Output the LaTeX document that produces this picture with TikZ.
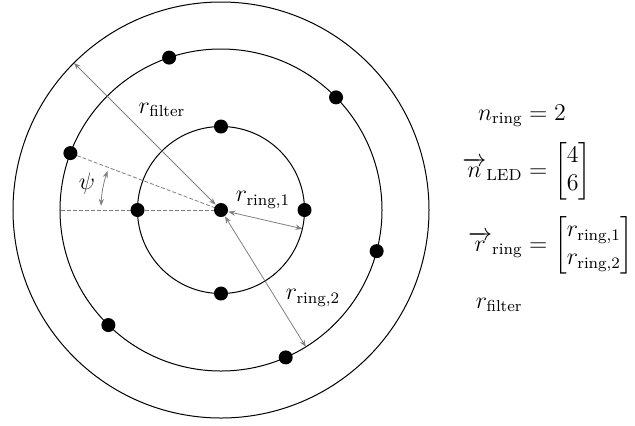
\documentclass[tikz,border=0pt]{standalone}
\usepackage{amsmath,amssymb}
\usepackage{tikz}
\usetikzlibrary{arrows.meta}
\newcommand{\lhsbox}[1]{\makebox[30.5pt][r]{$#1$}}
\tikzset{
  led/.style={circle, fill=black, inner sep=0pt, minimum size=7pt},
  dim/.style={gray, line width=0.4pt, {Stealth[length=3.5pt]}-{Stealth[length=3.5pt]}},
  aux/.style={gray, line width=0.4pt, dash pattern=on 2pt off 1pt},
  eqn/.style={inner sep=0pt, font=\large},
  par/.style={eqn, anchor=base west},
  >=Stealth
}
\begin{document}
\begin{tikzpicture}[x=0.5pt, y=0.5pt, line width=0.5pt]
  \useasboundingbox (-221,-215) rectangle (414,210);
  % filter and rings
  \draw (0,0) circle[radius=208];
  \draw (0,0) circle[radius=161];
  \draw (0,0) circle[radius=83.5];
  % guide lines for psi
  \coordinate (o) at (0,0);
  \coordinate (hz) at (180:161);
  \coordinate (gd) at (159.3:161);
  \draw[aux] (o) -- (gd);
  \draw[aux] (o) -- (hz);
  \node[led] (c) at (o) {};
  \foreach \a/\n in {0/1, 90/2, 180/3, 270/4}
    \node[led] (ra\n) at (\a:83.5) {};
  \foreach \a/\n in {159.3/1, 108.8/2, 44.4/3, -14.8/4, -66.3/5, -134.4/6}
    \node[led] (rb\n) at (\a:161) {};
  \draw[dim] (178:120) arc[start angle=178, end angle=161, radius=120];
  \node[eqn] (psi) at (-134,27) {$\psi$};
  % radii
  \coordinate (rf) at (135:208);
  \coordinate (r1) at (-13:83.5);
  \coordinate (r2) at (-58.2:161);
  \draw[dim] (c) -- (rf);
  \draw[dim] (c) -- (r1);
  \draw[dim] (c) -- (r2);
  \node[eqn] (lf) at (-59,100) {$r_{\text{filter}}$};
  \node[eqn] (l1) at (42,10) {$r_{\text{ring},1}$};
  \node[eqn] (l2) at (92,-88) {$r_{\text{ring},2}$};
  % parameters
  \node[par] (nr) at (240,90) {\lhsbox{n_{\text{ring}}}${}=2$};
  \node[par] (nl) at (240,33) {\lhsbox{\overrightarrow{n}_{\text{LED}}}${}=\begin{bmatrix}4\\6\end{bmatrix}$};
  \node[par] (rr) at (240,-41) {\lhsbox{\overrightarrow{r}_{\text{ring}}}${}=\begin{bmatrix}r_{\text{ring},1}\\r_{\text{ring},2}\end{bmatrix}$};
  \node[par] (rfl) at (240,-98) {\lhsbox{r_{\text{filter}}}};
\end{tikzpicture}
\end{document}
